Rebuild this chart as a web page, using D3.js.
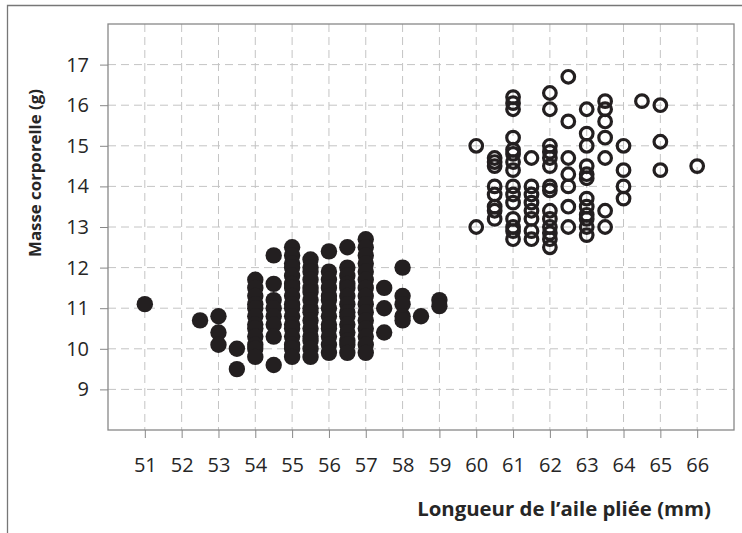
<!DOCTYPE html>
<html>
<head>
<meta charset="utf-8">
<script src="https://cdn.jsdelivr.net/npm/d3@7"></script>
<style>
  body { margin: 0; background: #fff; }
  svg { display: block; font-family: "Open Sans", sans-serif; }
</style>
</head>
<body>
<svg width="742" height="533"></svg>
<script>
// wing length columns (mm) and body masses (g)
const filledWing = [51, 52.5, 53, 53.5, 54, 54.5, 55, 55.5, 56, 56.5, 57, 57.5, 58, 58.5, 59];
const filledMass = [
  [11.1],
  [10.7],
  [10.8, 10.4, 10.1],
  [10.0, 9.5],
  [11.7, 11.5, 11.3, 11.1, 11.0, 10.8, 10.6, 10.5, 10.3, 10.1, 10.0, 9.8],
  [12.3, 11.6, 11.2, 11.0, 10.8, 10.6, 10.3, 9.6],
  [12.5, 12.3, 12.1, 12.0, 11.8, 11.6, 11.5, 11.3, 11.1, 11.0, 10.8, 10.6, 10.5, 10.3, 10.1, 10.0, 9.8],
  [12.2, 12.0, 11.9, 11.7, 11.5, 11.4, 11.2, 11.0, 10.9, 10.7, 10.5, 10.3, 10.2, 10.0, 9.8],
  [12.4, 11.9, 11.7, 11.5, 11.3, 11.2, 11.0, 10.8, 10.6, 10.5, 10.3, 10.1, 9.9],
  [12.5, 12.0, 11.8, 11.6, 11.5, 11.3, 11.1, 10.9, 10.8, 10.6, 10.4, 10.2, 10.1, 9.9],
  [12.7, 12.5, 12.3, 12.1, 11.9, 11.7, 11.5, 11.3, 11.1, 10.9, 10.7, 10.5, 10.3, 10.1, 9.9],
  [11.5, 11.0, 10.4],
  [12.0, 11.3, 11.1, 10.8, 10.7],
  [10.8],
  [11.2, 11.05]
];

const openWing = [60, 60.5, 61, 61.5, 62, 62.5, 63, 63.5, 64, 64.5, 65, 66];
const openMass = [
  [15.0, 13.0],
  [14.7, 14.6, 14.5, 14.0, 13.8, 13.5, 13.4, 13.2],
  [16.2, 16.05, 15.9, 15.2, 14.9, 14.8, 14.6, 14.4, 14.0, 13.8, 13.6, 13.2, 13.0, 12.9, 12.7],
  [14.7, 14.0, 13.8, 13.6, 13.4, 13.2, 12.9, 12.7],
  [16.3, 15.9, 15.0, 14.85, 14.7, 14.5, 14.0, 13.9, 13.4, 13.2, 13.0, 12.85, 12.7, 12.5],
  [16.7, 15.6, 14.7, 14.3, 14.0, 13.5, 13.0],
  [15.9, 15.3, 15.0, 14.5, 14.3, 14.2, 13.7, 13.5, 13.3, 13.2, 13.0, 12.8],
  [16.1, 15.9, 15.6, 15.2, 14.7, 13.4, 13.0],
  [15.0, 14.4, 14.0, 13.7],
  [16.1],
  [16.0, 15.1, 14.4],
  [14.5]
];

const xTicks = d3.range(51, 67);
const yTicks = d3.range(9, 18);

const ink = '#231f20';
const textCol = '#262626';

const svg = d3.select('svg');

// outer frame (only top and left edges visible)
svg.append('path')
  .attr('d', 'M7.5,533V5.5H742')
  .attr('fill', 'none')
  .attr('stroke', '#777')
  .attr('stroke-width', 1.3);

const x = d3.scaleLinear().domain([50, 67]).range([108, 734]);
const y = d3.scaleLinear().domain([8, 18]).range([430, 24]);

// grid
const grid = svg.append('g').attr('stroke', '#c4c4c4').attr('stroke-dasharray', '8,5');
grid.selectAll('line.v')
  .data(xTicks)
  .enter()
  .append('line')
  .attr('class', 'v')
  .attr('x1', d => x(d)).attr('x2', d => x(d))
  .attr('y1', y(18)).attr('y2', y(8));
grid.selectAll('line.h')
  .data(yTicks)
  .enter()
  .append('line')
  .attr('class', 'h')
  .attr('y1', d => y(d)).attr('y2', d => y(d))
  .attr('x1', x(50)).attr('x2', x(67));

// axes
const xAxis = svg.append('g')
  .attr('transform', `translate(0,${y(8)})`)
  .call(d3.axisBottom(x).tickValues(xTicks).tickSize(8).tickPadding(20).tickSizeOuter(0));
const yAxis = svg.append('g')
  .attr('transform', `translate(${x(50)},0)`)
  .call(d3.axisLeft(y).tickValues(yTicks).tickSize(8).tickPadding(11).tickSizeOuter(0));

[xAxis, yAxis].forEach((a) => {
  a.attr('font-size', 20).attr('font-family', '"Open Sans", sans-serif');
  a.select('.domain').remove();
  a.selectAll('line').attr('stroke', '#888');
  a.selectAll('text').attr('fill', textCol);
});

// plot frame
svg.append('rect')
  .attr('x', x(50)).attr('y', y(18))
  .attr('width', x(67) - x(50)).attr('height', y(8) - y(18))
  .attr('fill', 'none')
  .attr('stroke', '#888')
  .attr('stroke-width', 1.3);

// points
const flat = (wing, mass) => wing.flatMap((w, i) => mass[i].map(m => ({ w, m })));

svg.append('g')
  .selectAll('circle')
  .data(flat(filledWing, filledMass))
  .enter()
  .append('circle')
  .attr('cx', d => x(d.w))
  .attr('cy', d => y(d.m))
  .attr('r', 8.2)
  .attr('fill', ink);

svg.append('g')
  .selectAll('circle')
  .data(flat(openWing, openMass))
  .enter()
  .append('circle')
  .attr('cx', d => x(d.w))
  .attr('cy', d => y(d.m))
  .attr('r', 6.3)
  .attr('fill', 'none')
  .attr('stroke', ink)
  .attr('stroke-width', 3.2);

// titles, sized so their length matches the reference
function fitText(sel, target) {
  const len = sel.node().getComputedTextLength();
  const fs = parseFloat(sel.style('font-size'));
  sel.style('font-size', `${(fs * target / len).toFixed(2)}px`);
}

const xTitle = svg.append('text')
  .attr('x', 711)
  .attr('y', 516)
  .attr('text-anchor', 'end')
  .attr('fill', textCol)
  .style('font-size', '16px')
  .style('font-weight', 'bold')
  .text('Longueur de l\u2019aile pliée (mm)');
fitText(xTitle, 294);

const yTitle = svg.append('text')
  .attr('transform', 'translate(41,173) rotate(-90)')
  .attr('text-anchor', 'middle')
  .attr('fill', textCol)
  .style('font-size', '16px')
  .style('font-weight', 'bold')
  .text('Masse corporelle (g)');
fitText(yTitle, 168);
</script>
</body>
</html>
